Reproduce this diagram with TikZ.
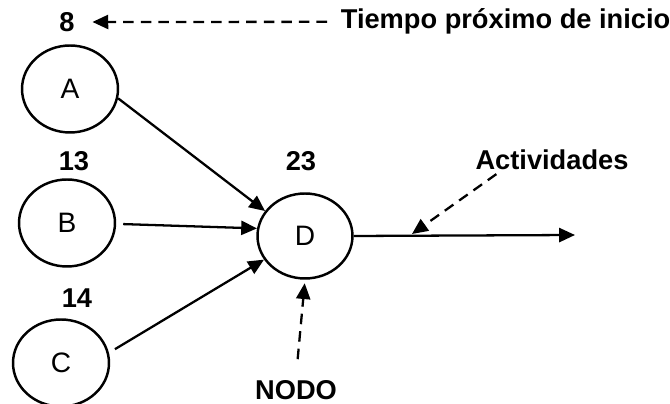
\documentclass[tikz,border=0pt]{standalone}
\usepackage{fontspec}
\setmainfont{Liberation Sans}
\usetikzlibrary{shapes.geometric,arrows.meta}
\tikzstyle{evento}=[ellipse,draw,line width=1.4pt,minimum width=1.92cm,minimum height=1.74cm,inner sep=0pt,font=\fontsize{16}{19}\selectfont]
\tikzstyle{tiempo}=[inner sep=2pt,font=\fontsize{15.5}{18}\selectfont\bfseries]
\tikzstyle{flecha}=[draw,line width=1.3pt,-{Triangle[length=9pt,width=8pt]}]
\tikzstyle{guia}=[flecha,dash pattern=on 6pt off 4pt]

\begin{document}
\begin{tikzpicture}[x=0.02cm,y=-0.02cm]
        \useasboundingbox (0,0) rectangle (670,404);
        % eventos
        \node[evento] (A) at (70, 89) {A};
        \node[evento] (B) at (67, 223) {B};
        \node[evento] (C) at (61, 363) {C};
        \node[evento,minimum width=1.9cm,minimum height=1.7cm] (D) at (305, 236) {D};
        % tiempos
        \node[tiempo] (t8) at (67, 22) {8};
        \node[tiempo] (t13) at (74, 161) {13};
        \node[tiempo] (t14) at (77, 298) {14};
        \node[tiempo] (t23) at (301, 161) {23};
        % rotulos
        \node[tiempo,anchor=base west] (inicio) at (337, 29) {Tiempo próximo de inicio};
        \node[tiempo,anchor=base] (act) at (552, 170) {Actividades};
        \node[tiempo,anchor=base] (nodo) at (296, 400) {NODO};
        \coordinate (fin) at (575, 235);
        \coordinate (pAct) at (412, 234);
        % actividades
        \path[flecha] (A.-11) -- (D.148);
        \path[flecha,shorten <=4pt] (B.-1) -- (D.171);
        \path[flecha,shorten <=4pt] (C.12) -- (D.210);
        \path[flecha] (D.east) -- (fin);
        % guias
        \path[guia,shorten >=0.28cm,shorten <=0.2cm] (inicio.west) -- (t8.east);
        \path[guia] (act.194) -- (pAct);
        \path[guia,shorten <=0.36cm,shorten >=2pt] (nodo.north) -- (D.south);
    \end{tikzpicture}
\end{document}
